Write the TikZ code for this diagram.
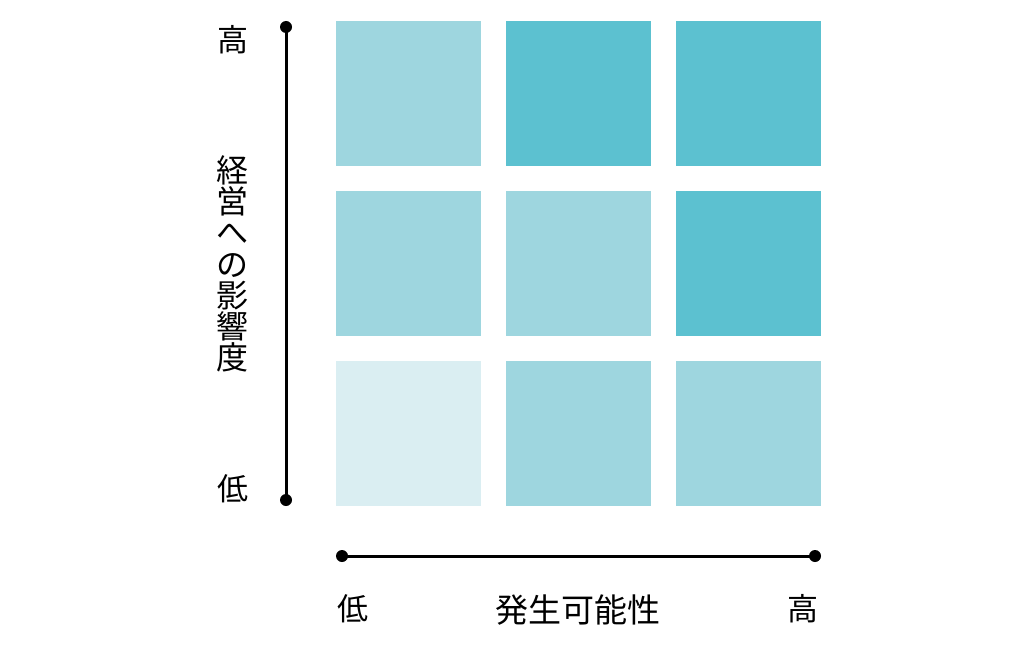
\documentclass[tikz,border=0pt]{standalone}
\usepackage{fontspec}
\setmainfont{Noto Sans CJK JP}
\definecolor{cdark}{HTML}{5CC1D0}
\definecolor{cmid}{HTML}{9ED6DF}
\definecolor{clight}{HTML}{DAEEF2}
\begin{document}
\begin{tikzpicture}[x=1pt,y=-1pt,
  cell/.style={minimum width=145pt,minimum height=145pt,inner sep=0pt,draw=none,anchor=north west},
  axis/.style={line width=3pt},
  dotmark/.style={circle,fill=black,inner sep=0pt,minimum size=12pt},
  lab/.style={font=\fontsize{31}{31}\selectfont,inner sep=0pt},
  vlab/.style={font=\fontsize{32}{31.2}\selectfont,inner sep=0pt,align=center},
  tlab/.style={font=\fontsize{33}{33}\selectfont,inner sep=0pt}]
\useasboundingbox (0,0) rectangle (1028,658);
% grid
\node[cell,fill=cmid]   (c11) at (336,21) {};
\node[cell,fill=cdark]  (c12) at (506,21) {};
\node[cell,fill=cdark]  (c13) at (676,21) {};
\node[cell,fill=cmid]   (c21) at (336,191) {};
\node[cell,fill=cmid]   (c22) at (506,191) {};
\node[cell,fill=cdark]  (c23) at (676,191) {};
\node[cell,fill=clight] (c31) at (336,361) {};
\node[cell,fill=cmid]   (c32) at (506,361) {};
\node[cell,fill=cmid]   (c33) at (676,361) {};
% vertical axis
\node[dotmark] (vt) at (286,27) {};
\node[dotmark] (vb) at (286,500) {};
\draw[axis] (vt.center) -- (vb.center);
% horizontal axis
\node[dotmark] (hl) at (342,556) {};
\node[dotmark] (hr) at (815,556) {};
\draw[axis] (hl.center) -- (hr.center);
% labels
\node[lab] (yhi) at (233,40) {高};
\node[lab] (ylo) at (233,489) {低};
\node[vlab] (ytitle) at (232,264) {経\\営\\へ\\の\\影\\響\\度};
\node[lab] (xlo) at (353,609) {低};
\node[tlab] (xtitle) at (578,610) {発生可能性};
\node[lab] (xhi) at (803,609) {高};
\end{tikzpicture}
\end{document}
